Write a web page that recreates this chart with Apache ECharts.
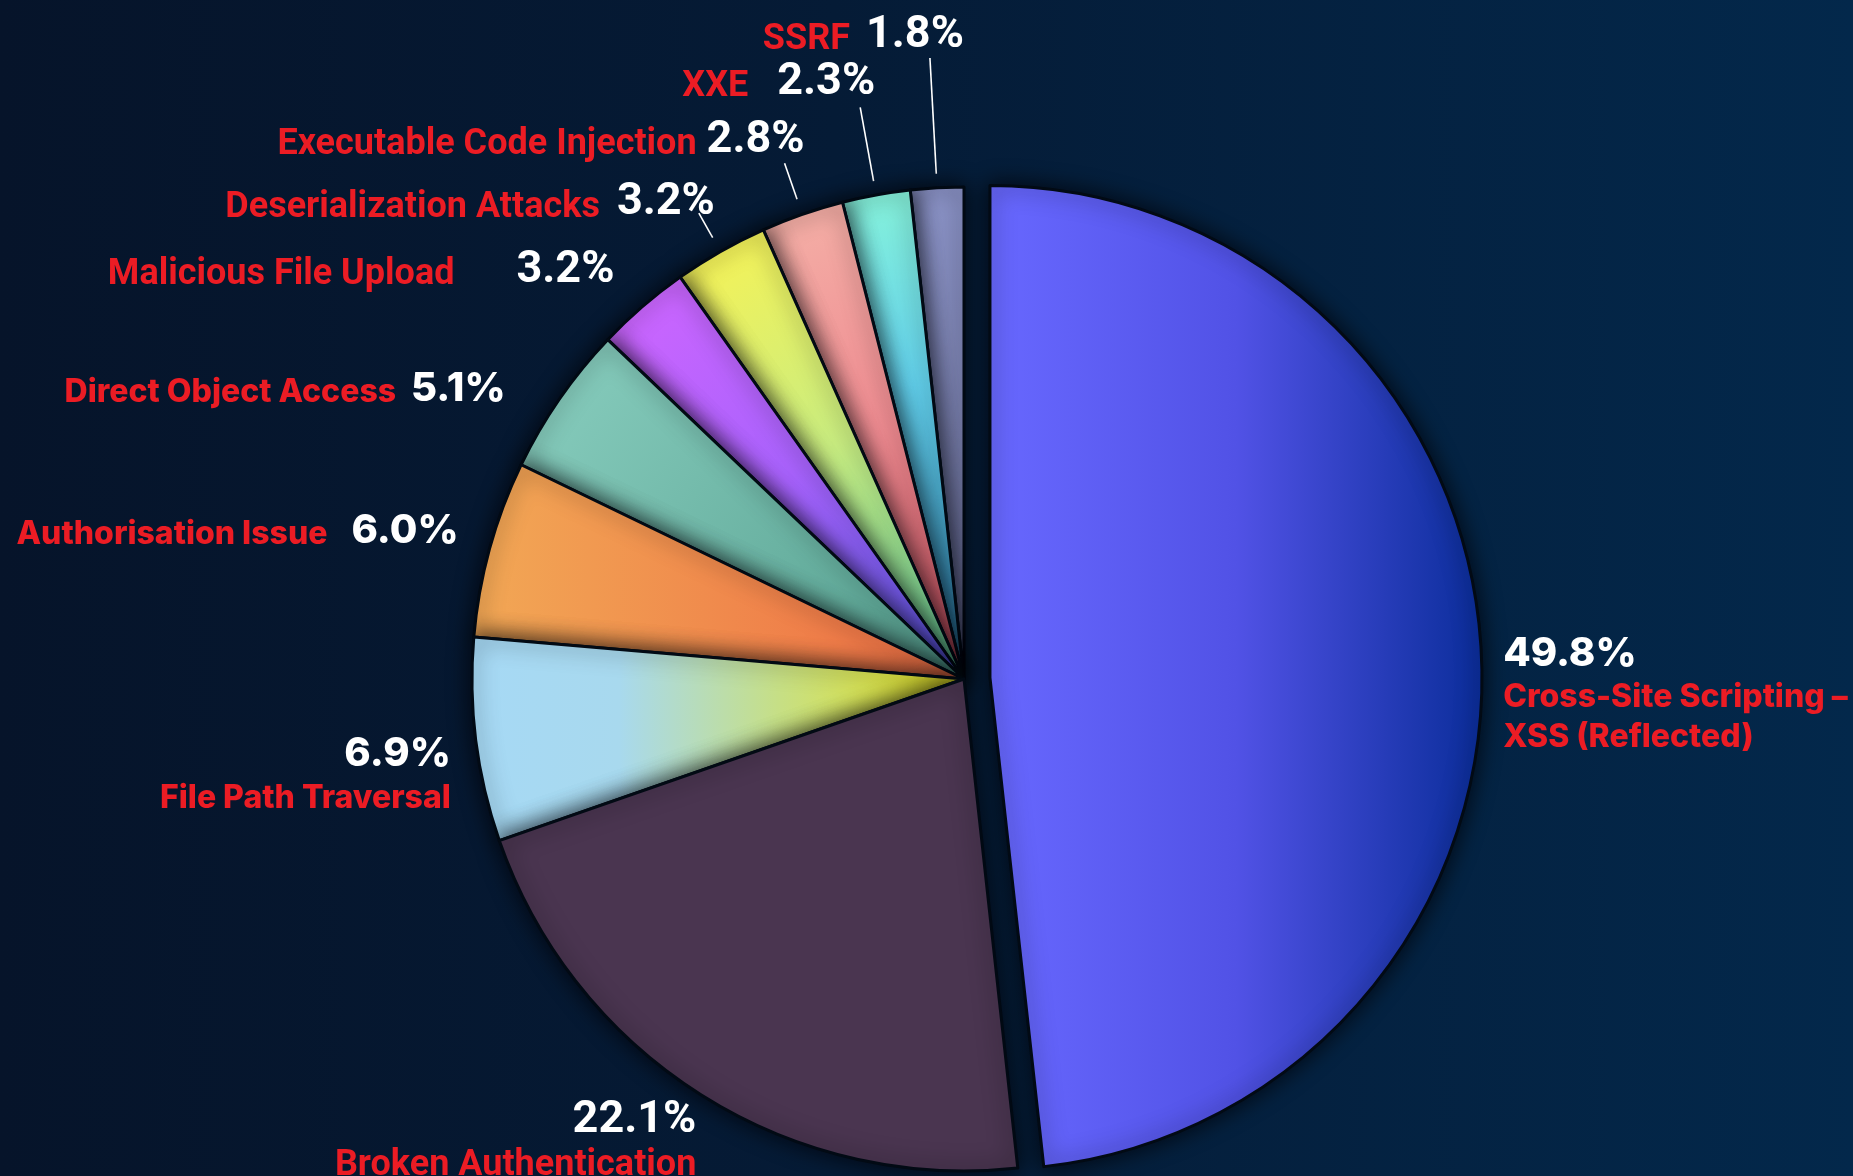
<!DOCTYPE html>
<html>
<head>
<meta charset="utf-8">
<title>Vulnerability categories</title>
<script src="https://cdn.jsdelivr.net/npm/echarts@6/dist/echarts.min.js"></script>
<style>
  html, body { margin: 0; padding: 0; }
  #chart {
    width: 1853px; height: 1176px;
    background: linear-gradient(90deg, #06142a 0%, #051b36 45%, #03284b 100%);
  }
</style>
</head>
<body>
<div id="chart"></div>
<script>
// Findings by category (percent), clockwise from 12 o'clock
const categories = [
  'Cross-Site Scripting – XSS (Reflected)',
  'Broken Authentication',
  'File Path Traversal',
  'Authorisation Issue',
  'Direct Object Access',
  'Malicious File Upload',
  'Deserialization Attacks',
  'Executable Code Injection',
  'XXE',
  'SSRF'
];
const shares = [49.8, 22.1, 6.9, 6.0, 5.1, 3.2, 3.2, 2.8, 2.3, 1.8];

// ---- geometry of the pie ----
const CX = 964, CY = 679, R = 492, EXPLODE = 26;
const BORDER = '#020a14';

// ---- slice fills ----
function lin(x, y, x2, y2, stops) {
  return { type: 'linear', x: x, y: y, x2: x2, y2: y2,
    colorStops: stops.map(function (s) { return { offset: s[0], color: s[1] }; }) };
}
const fills = [
  lin(0, 0, 1, 0, [[0, '#6868ff'], [0.5, '#5152e6'], [1, '#0a2d9a']]),
  '#4a3550',
  lin(0, 0, 1, 0, [[0, '#a6d9f5'], [0.3, '#a8d9ee'], [0.62, '#c6df86'], [1, '#e8e21a']]),
  lin(0, 0, 1, 0, [[0, '#f2a855'], [1, '#ee6c44']]),
  lin(0, 0, 1, 1, [[0, '#8acfc0'], [1, '#559f8e']]),
  lin(0, 0, 1, 1, [[0, '#d166ff'], [0.5, '#a862fc'], [1, '#5c5cf0']]),
  lin(0, 0, 1, 1, [[0, '#fbf352'], [0.5, '#c8ec80'], [1, '#66d8a8']]),
  lin(0, 0, 1, 1, [[0, '#f5b2a8'], [0.5, '#ee8a90'], [1, '#c84c5c']]),
  lin(0, 0, 0, 1, [[0, '#86f2da'], [0.4, '#62d0ec'], [1, '#2a78a6']]),
  lin(0, 0, 0, 1, [[0, '#8a92c6'], [1, '#666a92']])
];

// ---- label placement: reach beyond the rim along the slice bisector, text offset, optional leader ----
// The pulled-out slice keeps the library's own outside placement (it follows the slice),
// pushed down with top padding so the value sits level with the rim.
const spots = [
  { own: true, reach: 17, padTop: 86, align: 'left', font: 'wide', gap: 0 },
  { reach: 0,   dx: -5,  dy: 45,  align: 'right', font: 'narrow', gap: 0 },
  { reach: 0,   dx: -25, dy: 33,  align: 'right', font: 'wide',   gap: 0 },
  { reach: 0,   dx: -31, dy: -19, align: 'right', font: 'wide',   gap: 24 },
  { reach: 0,   dx: -54, dy: -11, align: 'right', font: 'wide',   gap: 15 },
  { reach: 0,   dx: -28, dy: -37, align: 'right', font: 'narrow', gap: 62 },
  { reach: 44,  dx: 16,  dy: -11, align: 'right', font: 'narrow', gap: 17, line: 16 },
  { reach: 54,  dx: 20,  dy: -24, align: 'right', font: 'narrow', gap: 10, line: 16 },
  { reach: 89,  dx: 15,  dy: -26, align: 'right', font: 'narrow', gap: 29, line: 14 },
  { reach: 130, dx: 34,  dy: -23, align: 'right', font: 'narrow', gap: 16, line: 14 }
];
const stacked = [true, true, true, false, false, false, false, false, false, false];

const FONTS = {
  wide:   { family: 'Inter, "Open Sans", sans-serif', name: 32, value: 40, weight: 800, gap: 8 },
  narrow: { family: 'Roboto, "Liberation Sans", sans-serif', name: 36, value: 45, weight: 700, gap: 4 }
};
const RED = '#ec1c24';

const total = shares.reduce(function (a, b) { return a + b; }, 0);
function bisectorDeg(i) {
  let before = 0;
  for (let k = 0; k < i; k++) before += shares[k];
  return (before + shares[i] / 2) / total * 360;
}

function richFor(i) {
  const f = FONTS[spots[i].font];
  return {
    n: { color: RED, fontFamily: f.family, fontWeight: f.weight, fontSize: f.name,
         lineHeight: f.name + f.gap, padding: [0, spots[i].gap, 0, 0], verticalAlign: 'bottom' },
    v: { color: '#ffffff', fontFamily: f.family, fontWeight: f.weight, fontSize: f.value,
         lineHeight: f.value + 2, verticalAlign: 'bottom' }
  };
}

function labelText(i) {
  const v = '{v|' + shares[i].toFixed(1) + '%}';
  if (stacked[i]) {
    const lines = categories[i].replace('– ', '–\n').split('\n');
    return v + '\n' + lines.map(function (t) { return '{n|' + t + '}'; }).join('\n');
  }
  return '{n|' + categories[i] + '}' + v;
}

// Drawn counter-clockwise from the last slice, so each wedge casts its
// shadow onto the neighbour on its clockwise side.
const N = categories.length;
const data = [];
for (let d = 0; d < N; d++) {
  const i = N - 1 - d;
  const s = spots[i];
  const label = { formatter: labelText(i), rich: richFor(i) };
  if (s.own) {
    label.padding = [s.padTop, 0, 0, 0];
    label.align = s.align;
  }
  data.push({
    name: categories[i],
    value: shares[i],
    selected: i === 0,
    itemStyle: { color: fills[i] },
    label: label,
    labelLine: s.own ? { show: false, length: s.reach, length2: 0 } : { show: !!s.line }
  });
}

const chart = echarts.init(document.getElementById('chart'), null, { renderer: 'canvas' });
chart.setOption({
  backgroundColor: 'transparent',
  animation: false,
  series: [{
    type: 'pie',
    center: [CX, CY],
    radius: [0, R],
    startAngle: 90,
    clockwise: false,
    selectedMode: 'single',
    selectedOffset: EXPLODE,
    avoidLabelOverlap: false,
    emphasis: { disabled: true },
    itemStyle: {
      borderColor: BORDER, borderWidth: 3,
      shadowBlur: 22, shadowColor: 'rgba(0, 2, 8, 0.8)'
    },
    select: { itemStyle: { borderColor: BORDER, borderWidth: 3 } },
    label: { show: true, position: 'outside' },
    labelLine: { show: false, length: 20, length2: 0, lineStyle: { color: '#ffffff', width: 1.6 } },
    labelLayout: function (p) {
      const i = N - 1 - p.dataIndex;
      const s = spots[i];
      if (s.own) return {};
      const a = bisectorDeg(i) * Math.PI / 180;
      const ux = Math.sin(a), uy = -Math.cos(a);
      const ax = CX + (R + s.reach) * ux, ay = CY + (R + s.reach) * uy;
      const out = { x: ax + s.dx, y: ay + s.dy, align: s.align, verticalAlign: 'middle' };
      if (s.line) {
        const sx = CX + (R + s.line) * ux, sy = CY + (R + s.line) * uy;
        out.labelLinePoints = [[sx, sy], [ax, ay], [ax, ay]];
      }
      return out;
    },
    data: data
  }]
});
</script>
</body>
</html>
